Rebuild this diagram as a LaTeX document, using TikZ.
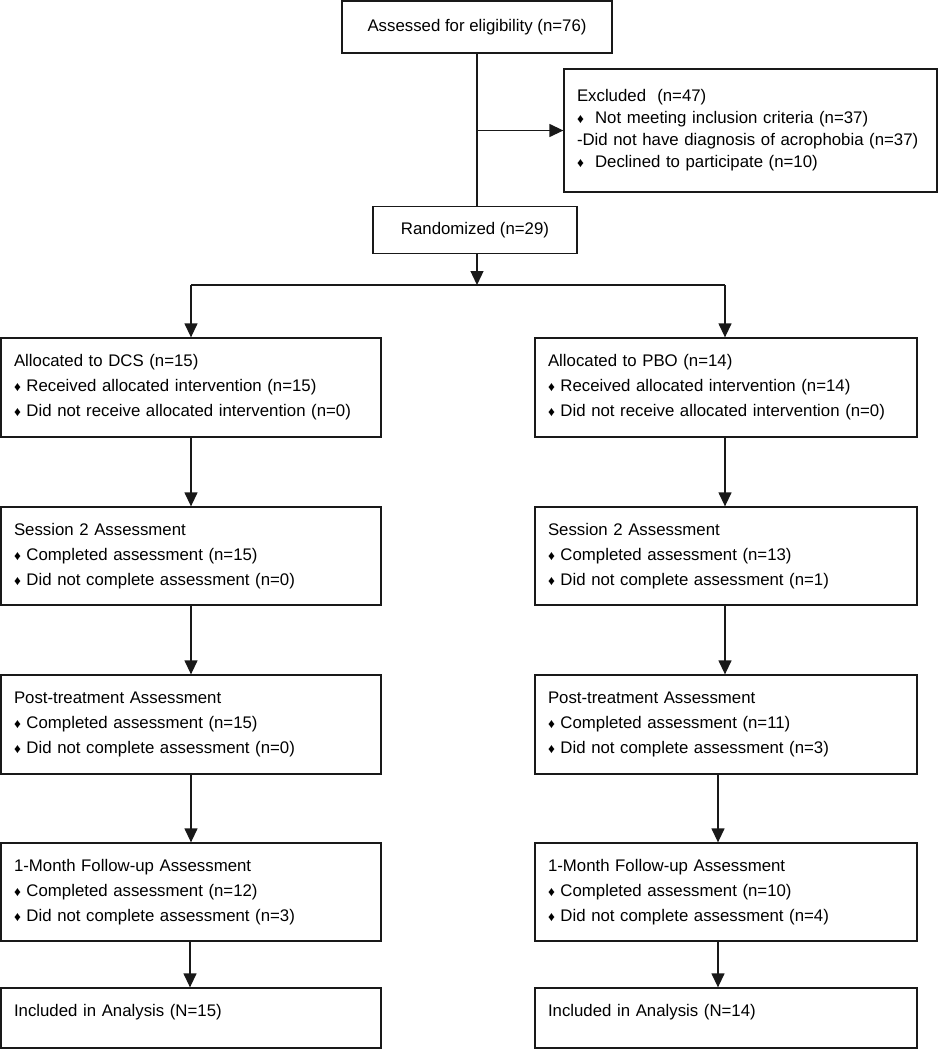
\documentclass[tikz,border=0pt]{standalone}
\usepackage{fontspec}
\setmainfont{Liberation Sans}
\usetikzlibrary{arrows.meta}
\newcommand{\dm}{{\fontsize{13.5}{13.5}\selectfont ♦}}
\begin{document}
\begin{tikzpicture}[x=1pt,y=-1pt,
  box/.style={draw=black!90, line width=1.3pt, rectangle, inner xsep=13pt, inner ysep=0pt,
    align=left, font=\fontsize{16.8}{25}\selectfont},
  lbox/.style={box, minimum width=380pt, text width=354pt},
  rbox/.style={box, minimum width=382pt, text width=356pt},
  arr/.style={line width=1.3pt, draw=black!90, -{Triangle[width=13pt,length=14pt]}},
  ln/.style={line width=1.3pt, draw=black!90}]
\useasboundingbox (0,0) rectangle (939,1050);
\fill[white] (0,0) rectangle (939,1050);

\node[box, minimum width=270pt, minimum height=52pt, align=center] (assess) at (477,26.9) {Assessed for eligibility (n=76)};
\node[box, minimum width=373pt, minimum height=123pt, text width=347pt, font=\fontsize{16.8}{22}\selectfont] (excl) at (750.5,130.5)
 {Excluded\ \ (n=47)\\ \dm\ \ Not meeting inclusion criteria (n=37)\\ -Did not have diagnosis of acrophobia (n=37)\\ \dm\ \ Declined to participate (n=10)};
\node[box, minimum width=204pt, minimum height=47pt, align=center] (rand) at (475,230) {Randomized (n=29)};

\node[lbox, minimum height=99pt] (l1) at (191,387.5) {Allocated to DCS (n=15)\\ \dm\ Received allocated intervention (n=15)\\ \dm\ Did not receive allocated intervention (n=0)};
\node[rbox, minimum height=99pt] (r1) at (726,387.5) {Allocated to PBO (n=14)\\ \dm\ Received allocated intervention (n=14)\\ \dm\ Did not receive allocated intervention (n=0)};

\node[lbox, minimum height=98pt] (l2) at (191,556) {Session 2 Assessment\\ \dm\ Completed assessment (n=15)\\ \dm\ Did not complete assessment (n=0)};
\node[rbox, minimum height=98pt] (r2) at (726,556) {Session 2 Assessment\\ \dm\ Completed assessment (n=13)\\ \dm\ Did not complete assessment (n=1)};

\node[lbox, minimum height=99pt] (l3) at (191,724.5) {Post-treatment Assessment\\ \dm\ Completed assessment (n=15)\\ \dm\ Did not complete assessment (n=0)};
\node[rbox, minimum height=99pt] (r3) at (726,724.5) {Post-treatment Assessment\\ \dm\ Completed assessment (n=11)\\ \dm\ Did not complete assessment (n=3)};

\node[lbox, minimum height=98pt] (l4) at (191,892) {1-Month Follow-up Assessment\\ \dm\ Completed assessment (n=12)\\ \dm\ Did not complete assessment (n=3)};
\node[rbox, minimum height=98pt] (r4) at (726,892) {1-Month Follow-up Assessment\\ \dm\ Completed assessment (n=10)\\ \dm\ Did not complete assessment (n=4)};

\node[lbox, minimum height=60pt, text depth=15pt] (l5) at (191,1018) {Included in Analysis (N=15)};
\node[rbox, minimum height=60pt, text depth=15pt] (r5) at (726,1018) {Included in Analysis (N=14)};

\coordinate (split) at (477,285);
\coordinate (sl) at (191,285);
\coordinate (sr) at (725,285);

\draw[ln] (assess.south) -- (assess.south |- rand.north);
\draw[arr] (assess.south |- excl.west) -- (excl.west);
\draw[arr] (rand.south -| split) -- (split);
\draw[ln] (sl) -- (sr);
\draw[arr] (sl) -- (l1.north);
\draw[arr] (sr) -- (sr |- r1.north);

\draw[arr] (l1.south) -- (l2.north);
\draw[arr] (l2.south) -- (l3.north);
\draw[arr] (l3.south) -- (l4.north);
\draw[arr] ([xshift=-1pt]l4.south) -- ([xshift=-1pt]l5.north);

\draw[arr] ([xshift=-1pt]r1.south) -- ([xshift=-1pt]r2.north);
\draw[arr] ([xshift=-1pt]r2.south) -- ([xshift=-1pt]r3.north);
\draw[arr] ([xshift=-8pt]r3.south) -- ([xshift=-8pt]r4.north);
\draw[arr] ([xshift=-8pt]r4.south) -- ([xshift=-8pt]r5.north);
\end{tikzpicture}
\end{document}
